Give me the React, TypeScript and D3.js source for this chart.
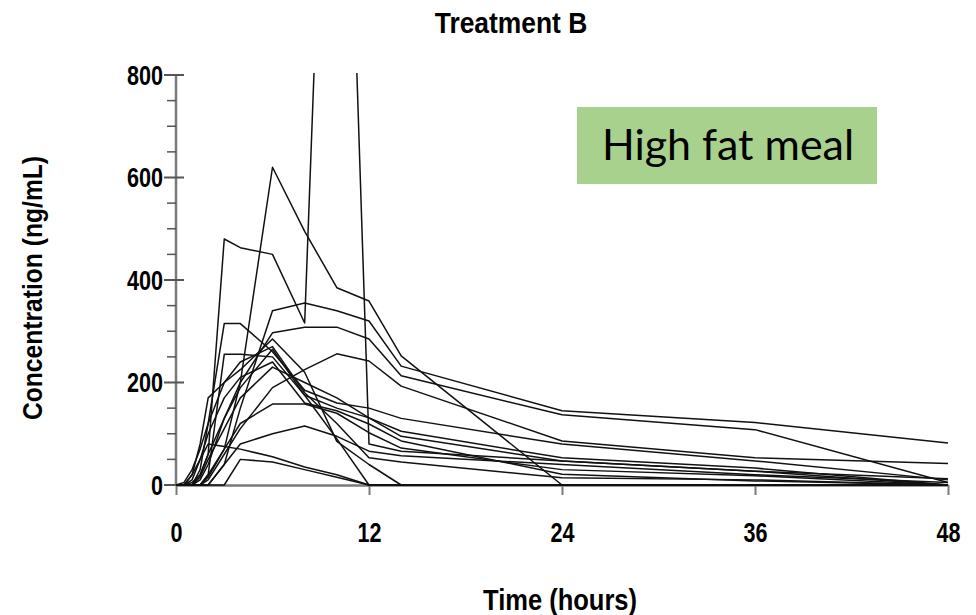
import React, { useEffect, useRef } from "react"
import * as d3 from "d3"

// sampling times (hours)
const times = [0, 0.5, 1, 1.5, 2, 3, 4, 6, 8, 10, 12, 14, 24, 36, 48]

// one array per subject, concentration in ng/mL at each sampling time
const subj01 = [0, 0, 0, 0, 15, 70, 200, 620, 495, 385, 359, 252, 0, 0, 0]
const subj02 = [0, 0, 5, 20, 60, 480, 463, 450, 316, 2000, 80, 66, 47, 27, 0]
const subj03 = [0, 0, 0, 0, 0, 40, 150, 340, 355, 340, 320, 232, 145, 122, 82]
const subj04 = [0, 0, 0, 10, 40, 130, 200, 297, 308, 308, 285, 213, 137, 108, 5]
const subj05 = [0, 0, 0, 0, 10, 60, 110, 190, 225, 256, 242, 193, 86, 53, 42]
const subj06 = [0, 0, 0, 30, 120, 315, 315, 260, 185, 160, 150, 130, 80, 47, 10]
const subj07 = [0, 0, 0, 0, 20, 255, 255, 250, 175, 150, 131, 105, 53, 33, 0]
const subj08 = [0, 0, 20, 80, 170, 200, 225, 285, 220, 85, 40, 0, 0, 0, 0]
const subj09 = [0, 0, 0, 20, 60, 130, 190, 265, 175, 90, 0, 0, 0, 0, 0]
const subj10 = [0, 0, 10, 50, 100, 170, 210, 240, 160, 145, 119, 86, 21, 8, 0]
const subj11 = [0, 0, 0, 0, 20, 70, 120, 158, 158, 140, 102, 72, 30, 18, 0]
const subj12 = [0, 0, 0, 0, 0, 40, 80, 100, 115, 95, 66, 57, 40, 20, 5]
const subj13 = [0, 0, 20, 50, 80, 75, 70, 55, 35, 20, 0, 0, 0, 0, 0]
const subj14 = [0, 0, 0, 0, 0, 0, 50, 45, 30, 15, 0, 0, 0, 0, 0]
const subj15 = [0, 5, 30, 70, 120, 200, 240, 270, 180, 120, 53, 45, 14, 10, 0]
const subj16 = [0, 0, 0, 15, 50, 110, 170, 230, 200, 170, 131, 95, 47, 27, 12]

const subjects = [subj01, subj02, subj03, subj04, subj05, subj06, subj07, subj08,
	subj09, subj10, subj11, subj12, subj13, subj14, subj15, subj16]

const xTicks = [0, 12, 24, 36, 48]
const yTicks = [0, 200, 400, 600, 800]
const yMinorTicks = [50, 100, 150, 250, 300, 350, 450, 500, 550, 650, 700, 750]

const title = "Treatment B"
const xTitle = "Time (hours)"
const yTitle = "Concentration (ng/mL)"
const note = "High fat meal"

// no narrow font installed, so squeeze Liberation Sans bold horizontally
const narrow = "'Liberation Sans', Arial, sans-serif"

export default function App() {
	const width = 976
	const height = 615

	/** plot box */
	const left = 176
	const right = 948
	const top = 75
	const bottom = 485

	const xScale = d3.scaleLinear().domain([0, 48]).range([left, right])
	const yScale = d3.scaleLinear().domain([0, 800]).range([bottom, top])

	const lineGen = d3.line<number>()
		.x((d, i) => xScale(times[i]))
		.y(d => yScale(d))

	/** x axis drawn by d3 */
	const xAxisRef = useRef<SVGGElement>(null)
	useEffect(() => {
		const g = d3.select(xAxisRef.current)
		g.call(d3.axisBottom(xScale).tickValues(xTicks).tickSize(10).tickPadding(37).tickSizeOuter(0))
		g.select(".domain").attr("stroke", "#7a7a7a").attr("stroke-width", 2.5)
		g.selectAll(".tick line").attr("stroke", "#7a7a7a").attr("stroke-width", 2)
		g.selectAll(".tick text")
			.attr("fill", "#000")
			.attr("font-family", narrow)
			.attr("font-weight", "bold")
			.attr("font-size", 27)
			.attr("dy", "0.36em")
			.attr("transform", "scale(0.8,1)")
	}, [])

	return (
		<svg width={width} height={height} style={{ position: "absolute", left: 0, top: 0, background: "#fff" }}>
			<defs>
				<clipPath id="plot-clip">
					<rect x={left - 2} y={top - 2} width={right - left + 6} height={bottom - top + 4} />
				</clipPath>
			</defs>

			<text transform="translate(511, 33) scale(0.88,1)" textAnchor="middle" fontFamily={narrow} fontWeight="bold" fontSize={30}>{title}</text>

			{/* y axis */}
			<line x1={left} x2={left} y1={yScale(800) - 1} y2={yScale(0)} stroke="#7a7a7a" strokeWidth={2.5} />
			{yMinorTicks.map(t => (
				<line key={t} x1={left - 9} x2={left} y1={yScale(t)} y2={yScale(t)} stroke="#555" strokeWidth={1.5} />
			))}
			{yTicks.map(t => (
				<g key={t}>
					<line x1={left - 12} x2={left + 8} y1={yScale(t)} y2={yScale(t)} stroke="#555" strokeWidth={2} />
					<text transform={`translate(163, ${yScale(t)}) scale(0.8,1)`} dy="0.36em" textAnchor="end" fontFamily={narrow} fontWeight="bold" fontSize={27}>{t}</text>
				</g>
			))}

			<g ref={xAxisRef} transform={`translate(0, ${bottom})`} />

			<g clipPath="url(#plot-clip)" fill="none" stroke="#111" strokeWidth={1.5} strokeLinejoin="round">
				{subjects.map((s, i) => <path key={i} d={lineGen(s) || ""} />)}
			</g>

			<text transform="translate(560, 610) scale(0.88,1)" textAnchor="middle" fontFamily={narrow} fontWeight="bold" fontSize={29}>{xTitle}</text>
			<text transform="translate(42, 288) rotate(-90) scale(0.88,1)" textAnchor="middle" fontFamily={narrow} fontWeight="bold" fontSize={28}>{yTitle}</text>

			<rect x={577} y={107} width={300} height={77} fill="#a9d18e" />
			<text x={728} y={160} textAnchor="middle" fontFamily="Lato, 'Open Sans', sans-serif" fontSize={43}>{note}</text>
		</svg>
	)
}
